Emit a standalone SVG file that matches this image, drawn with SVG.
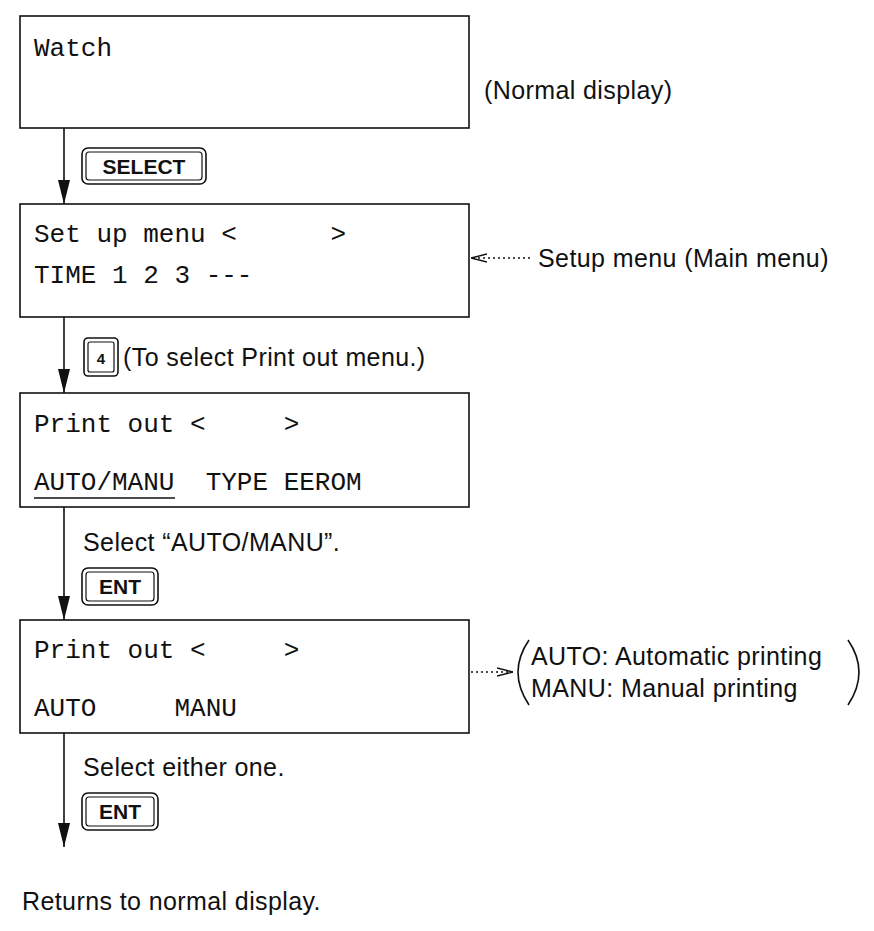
<svg xmlns="http://www.w3.org/2000/svg" width="874" height="931" viewBox="0 0 874 931">
<style>
.box{fill:#fff;stroke:#111;stroke-width:1.6}
.mono{font-family:"Liberation Mono","DejaVu Sans Mono",monospace;font-size:26px;fill:#111}
.sans{font-family:"Liberation Sans",Arial,sans-serif;font-size:25px;letter-spacing:0.4px;fill:#111}
.key{font-family:"Liberation Sans",Arial,sans-serif;font-size:21px;font-weight:bold;fill:#111}
.kout{fill:#fff;stroke:#111;stroke-width:1.6}
.kin{fill:none;stroke:#111;stroke-width:1.2}
.line{stroke:#111;stroke-width:1.6;fill:none}
.dot{stroke:#111;stroke-width:1.4;fill:none;stroke-dasharray:2 3}
</style>
<defs>
<marker id="down" viewBox="0 0 12 24" refX="6" refY="24" markerWidth="12" markerHeight="24" markerUnits="userSpaceOnUse" orient="0">
<path d="M0,0 L12,0 L6,24 Z" fill="#111"/>
</marker>
<marker id="open" viewBox="0 0 16 10" refX="16" refY="5" markerWidth="16" markerHeight="10" markerUnits="userSpaceOnUse" orient="auto">
<path d="M0,1 L16,5 L0,9" fill="none" stroke="#111" stroke-width="1.4"/>
</marker>
</defs>

<g id="connectors">
<line class="line" x1="64" y1="128" x2="64" y2="204" marker-end="url(#down)"/>
<line class="line" x1="64" y1="317" x2="64" y2="393" marker-end="url(#down)"/>
<line class="line" x1="64" y1="507" x2="64" y2="620" marker-end="url(#down)"/>
<line class="line" x1="64" y1="733" x2="64" y2="847" marker-end="url(#down)"/>
<line class="dot" x1="530" y1="258" x2="471" y2="258" marker-end="url(#open)"/>
<line class="dot" x1="471" y1="672" x2="513" y2="672" marker-end="url(#open)"/>
</g>

<g id="watch">
<rect class="box" x="20" y="16" width="449" height="112"/>
<text class="mono" x="34" y="56">Watch</text>
</g>
<g id="normal-label"><text class="sans" x="484" y="99">(Normal display)</text></g>

<g id="key-select">
<rect class="kout" x="82" y="148" width="124" height="36" rx="6"/>
<rect class="kin" x="86" y="152" width="116" height="28" rx="3"/>
<text class="key" x="144" y="174" text-anchor="middle">SELECT</text>
</g>

<g id="setup-menu">
<rect class="box" x="20" y="204" width="449" height="113"/>
<text class="mono" x="34" y="242" xml:space="preserve">Set up menu &lt;      &gt;</text>
<text class="mono" x="34" y="283" xml:space="preserve">TIME 1 2 3 ---</text>
</g>
<g id="setup-label"><text class="sans" x="538" y="267">Setup menu (Main menu)</text></g>

<g id="key-4">
<rect class="kout" x="84" y="338" width="34" height="38" rx="4"/>
<rect class="kin" x="88" y="342" width="26" height="30" rx="2"/>
<text class="key" x="101" y="364" text-anchor="middle" style="font-size:15px">4</text>
<text class="sans" x="123" y="366">(To select Print out menu.)</text>
</g>

<g id="print-out-1">
<rect class="box" x="20" y="393" width="449" height="114"/>
<text class="mono" x="34" y="432" xml:space="preserve">Print out &lt;     &gt;</text>
<text class="mono" x="34" y="490" xml:space="preserve">AUTO/MANU  TYPE EEROM</text>
<line class="line" x1="34" y1="498" x2="175" y2="498" stroke-width="1.2"/>
</g>

<g id="step-auto-manu">
<text class="sans" x="83" y="551">Select “AUTO/MANU”.</text>
<rect class="kout" x="82" y="568" width="76" height="37" rx="6"/>
<rect class="kin" x="86" y="572" width="68" height="29" rx="3"/>
<text class="key" x="120" y="594" text-anchor="middle">ENT</text>
</g>

<g id="print-out-2">
<rect class="box" x="20" y="620" width="449" height="113"/>
<text class="mono" x="34" y="658" xml:space="preserve">Print out &lt;     &gt;</text>
<text class="mono" x="34" y="716" xml:space="preserve">AUTO     MANU</text>
</g>

<g id="mode-note">
<path class="line" d="M529,640 Q507,672 529,705" stroke-width="1.4"/>
<path class="line" d="M848,640 Q870,672 848,705" stroke-width="1.4"/>
<text class="sans" x="531" y="665">AUTO: Automatic printing</text>
<text class="sans" x="531" y="697">MANU: Manual printing</text>
</g>

<g id="step-either">
<text class="sans" x="83" y="776">Select either one.</text>
<rect class="kout" x="82" y="793" width="76" height="37" rx="6"/>
<rect class="kin" x="86" y="797" width="68" height="29" rx="3"/>
<text class="key" x="120" y="819" text-anchor="middle">ENT</text>
</g>

<g id="returns"><text class="sans" x="22" y="910">Returns to normal display.</text></g>
</svg>
